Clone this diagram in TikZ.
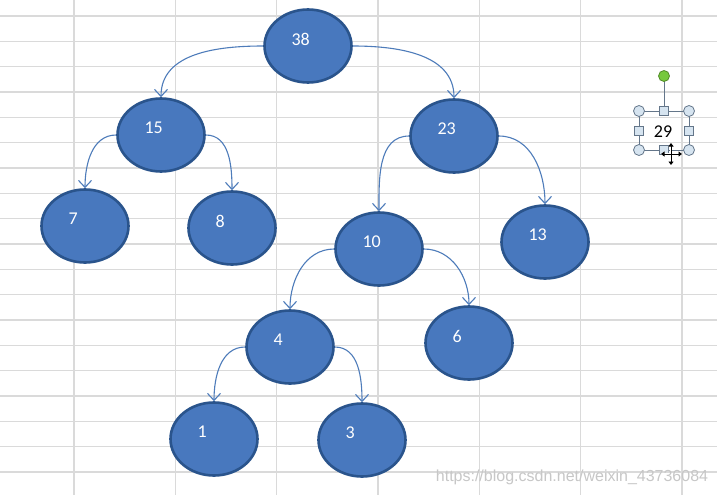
\documentclass[tikz,border=0pt]{standalone}
\usepackage{fontspec}
\setmainfont{Carlito}
\newfontfamily\wmfont{Liberation Sans}
\usepackage{xcolor}
\usetikzlibrary{arrows.meta,shapes.geometric}

\definecolor{cellline}{RGB}{218,218,218}
\definecolor{keyfill}{RGB}{72,120,190}
\definecolor{keyedge}{RGB}{42,84,140}
\definecolor{arrowcol}{RGB}{78,124,186}
\definecolor{handlefill}{RGB}{214,228,240}
\definecolor{handleedge}{RGB}{100,118,138}
\definecolor{rotgreen}{RGB}{118,200,60}

\begin{document}
\begin{tikzpicture}[
    x=1pt, y=-1pt,
    grid/.style={cellline, line width=1.4pt},
    key/.style={ellipse, draw=keyedge, fill=keyfill, line width=2.6pt, minimum width=87pt, minimum height=73pt, inner sep=0pt},
    num/.style={text=white, inner sep=0pt, text width=33pt, align=left, yshift=7pt, font=\fontsize{18}{20}\selectfont},
    arrow/.style={-{Straight Barb[length=7pt,width=13pt]}, arrowcol, line width=1.1pt},
    selline/.style={draw=handleedge, line width=0.9pt},
    hcirc/.style={circle, draw=handleedge, fill=handlefill, minimum size=11pt, inner sep=0pt, line width=0.8pt},
    hsq/.style={rectangle, draw=handleedge, fill=handlefill, minimum size=9pt, inner sep=0pt, line width=0.8pt},
    rot/.style={circle, draw=rotgreen!70!black, fill=rotgreen, minimum size=11pt, inner sep=0pt, line width=0.8pt},
    cursor/.style={{Triangle[length=3.5pt,width=5pt]}-{Triangle[length=3.5pt,width=5pt]}, line width=1pt}
]
\useasboundingbox[fill=white] (0,0) rectangle (717,495);

% spreadsheet cells
\foreach \i in {0,...,6}
    \draw[grid] ({74+101.3*\i},0) -- ({74+101.3*\i},495);
\foreach \j in {0,...,18}
    \draw[grid] (0,{16+25.33*\j}) -- (717,{16+25.33*\j});

% tree
\node[key, label={[num]center:38}] (n38) at (308,46) {};
\node[key, label={[num]center:15}] (n15) at (161,135) {};
\node[key, label={[num]center:23}] (n23) at (454,136) {};
\node[key, label={[num]center:7}] (n7) at (85,226) {};
\node[key, label={[num]center:8}] (n8) at (232,228) {};
\node[key, label={[num]center:10}] (n10) at (379,249) {};
\node[key, label={[num]center:13}] (n13) at (545,242) {};
\node[key, label={[num]center:4}] (n4) at (290,347) {};
\node[key, label={[num]center:6}] (n6) at (469,343) {};
\node[key, label={[num]center:1}] (n1) at (214,439) {};
\node[key, label={[num]center:3}] (n3) at (362,440) {};

\draw[arrow] (n38.west) to[out=180, in=90] (n15.north);
\draw[arrow] (n38.east) to[out=0, in=90] (n23.north);
\draw[arrow] (n15.west) to[out=180, in=90] (n7.north);
\draw[arrow] (n15.east) to[out=0, in=90] (n8.north);
\draw[arrow] (n23.west) to[out=180, in=90] (n10.north);
\draw[arrow] (n23.east) to[out=0, in=90] (n13.north);
\draw[arrow] (n10.west) to[out=180, in=90] (n4.north);
\draw[arrow] (n10.east) to[out=0, in=90] (n6.north);
\draw[arrow] (n4.west) to[out=180, in=90] (n1.north);
\draw[arrow] (n4.east) to[out=0, in=90] (n3.north);

% selected text box
\draw[selline] (639,111) rectangle (689,150);
\draw[selline] (664,76) -- (664,111);
\node[rot] (turn) at (664,76) {};
\node[hcirc] (nw) at (639,111) {};
\node[hcirc] (ne) at (689,111) {};
\node[hcirc] (sw) at (639,150) {};
\node[hcirc] (se) at (689,150) {};
\node[hsq] (top) at (664,111) {};
\node[hsq] (lft) at (639,131) {};
\node[hsq] (rgt) at (689,131) {};
\node[hsq] (bot) at (664,150) {};
\node[font=\fontsize{18}{20}\selectfont] (t29) at (663,132) {29};

% move cursor
\draw[cursor, white, line width=2.6pt] (661,154) -- (682,154);
\draw[cursor, white, line width=2.6pt] (671,143) -- (671,165);
\draw[cursor] (661,154) -- (682,154);
\draw[cursor] (671,143) -- (671,165);

\node[text=black!22, font=\wmfont\fontsize{16}{18}\selectfont] (mark) at (572,477) {https://blog.csdn.net/weixin\_43736084};
\end{tikzpicture}
\end{document}
